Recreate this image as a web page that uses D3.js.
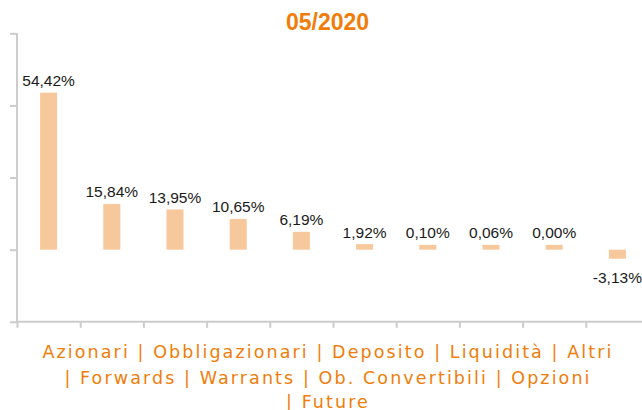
<!DOCTYPE html>
<html>
<head>
<meta charset="utf-8">
<script src="https://cdn.jsdelivr.net/npm/d3@7"></script>
<style>
html,body{margin:0;padding:0;background:#fff;}
svg{display:block;}
</style>
</head>
<body>
<svg id="chart" width="642" height="410"></svg>
<script>
const title = "05/2020";
const categories = ["Azionari","Obbligazionari","Deposito","Liquidità","Altri","Forwards","Warrants","Ob. Convertibili","Opzioni","Future"];
const values = [54.42, 15.84, 13.95, 10.65, 6.19, 1.92, 0.10, 0.06, 0.00, -3.13];
const yTicks = [-25, 0, 25, 50, 75];
const legendLines = [
  "Azionari | Obbligazionari | Deposito | Liquidità | Altri",
  "| Forwards | Warrants | Ob. Convertibili | Opzioni",
  "| Future"
];

const svg = d3.select("#chart");
const axisColor = "#cccccc";
const barColor = "#f7c89c";
const orange = "#f07d0a";

const x = d3.scaleBand().domain(categories).range([17, 649]).paddingInner(0).paddingOuter(0);
const y = d3.scaleLinear().domain([-25, 75]).range([321.8, 33.3]);

const fmt = v => v.toFixed(2).replace(".", ",") + "%";
const barW = 17;
const minH = 4.8;

// title
svg.append("text")
  .attr("x", 327.5).attr("y", 29.5)
  .attr("text-anchor", "middle")
  .style("font-family", "'Liberation Sans', Arial, Helvetica, sans-serif")
  .style("font-weight", "bold")
  .style("font-size", "23px")
  .style("fill", orange)
  .text(title);

// bars
const bars = svg.append("g");
categories.forEach((c, i) => {
  const v = values[i];
  const cx = x(c) + x.bandwidth() / 2;
  const y0 = y(0);
  let top, h;
  if (v >= 0) {
    h = Math.max(y0 - y(v), minH);
    top = y0 - h;
  } else {
    h = Math.max(y(v) - y0, minH);
    top = y0;
  }
  bars.append("rect")
    .attr("x", cx - barW / 2).attr("y", top)
    .attr("width", barW).attr("height", h)
    .attr("fill", barColor);
  bars.append("text")
    .attr("x", cx)
    .attr("y", v >= 0 ? top - 6.5 : top + h + 24)
    .attr("text-anchor", "middle")
    .style("font-family", "'Liberation Sans', Arial, Helvetica, sans-serif")
    .style("font-size", "15.5px")
    .style("fill", "#1a1a1a")
    .text(fmt(v));
});

// y axis
const yAxis = d3.axisLeft(y).tickValues(yTicks).tickSize(7).tickFormat("");
const gy = svg.append("g").attr("transform", "translate(17,0)").call(yAxis);
gy.select(".domain").attr("stroke", axisColor).attr("stroke-width", 2).attr("d", `M0,${y(75)}V${y(-25)+1}`);
gy.selectAll(".tick line").attr("stroke", axisColor).attr("stroke-width", 2);

// x axis
const tickPos = categories.map(c => x(c));
const xAxis = d3.axisBottom(d3.scaleLinear().domain([0, 642]).range([0, 642]))
  .tickValues(tickPos).tickSize(6).tickFormat("");
const gx = svg.append("g").attr("transform", `translate(0,${y(-25)})`).call(xAxis);
gx.select(".domain").attr("stroke", axisColor).attr("stroke-width", 2).attr("d", "M16,0H642");
gx.selectAll(".tick line").attr("stroke", axisColor).attr("stroke-width", 2);

// legend
const leg = svg.append("text")
  .attr("text-anchor", "middle")
  .style("font-family", "'DejaVu Sans', Verdana, sans-serif")
  .style("font-size", "17.5px")
  .style("letter-spacing", "2.1px")
  .style("fill", orange);
const legY = [358, 384, 407.5];
legendLines.forEach((l, i) => {
  leg.append("tspan").attr("x", 328).attr("y", legY[i]).text(l);
});
</script>
</body>
</html>
